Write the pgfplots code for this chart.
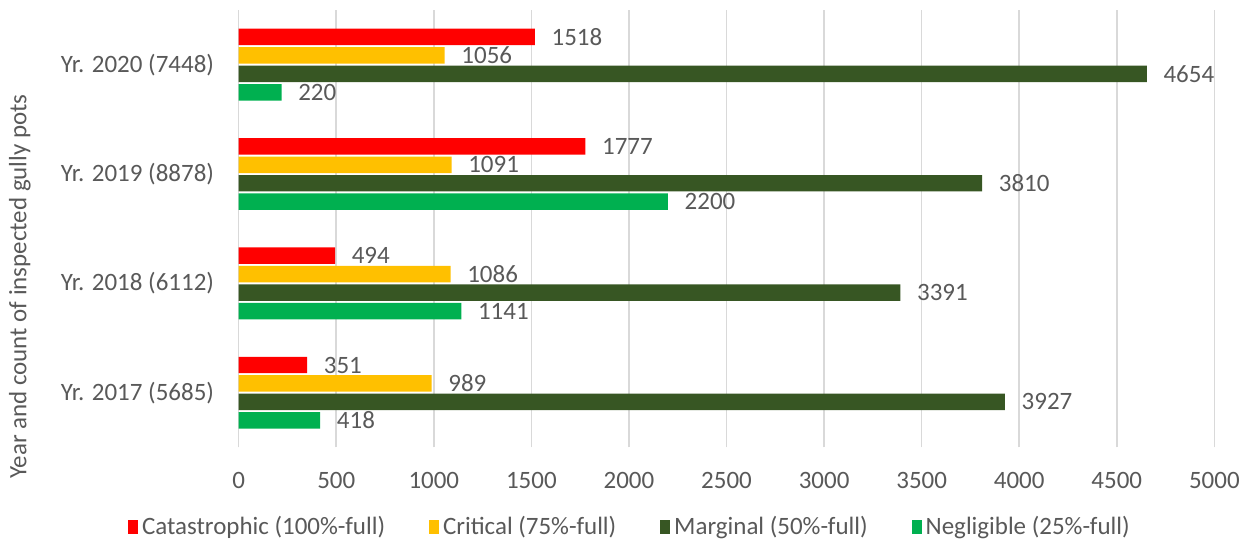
\documentclass[border=0pt]{standalone}
\usepackage{fontspec}
\setmainfont{Carlito}
\usepackage{pgfplots}
\pgfplotsset{compat=1.18}
\definecolor{cCat}{HTML}{FF0000}
\definecolor{cCri}{HTML}{FFC000}
\definecolor{cMar}{HTML}{375623}
\definecolor{cNeg}{HTML}{00B050}
\definecolor{txt}{HTML}{595959}
\definecolor{grd}{HTML}{D9D9D9}
\begin{document}
\fontsize{12.5}{15}\selectfont
\begin{tikzpicture}
\begin{axis}[
  scale only axis,
  width=488.5pt, height=219pt,
  xbar, bar width=8.25pt,
  xmin=0, xmax=5000, ymin=-0.5, ymax=3.5,
  xtick={0,500,...,5000},
  ytick={0,1,2,3},
  yticklabels={Yr. 2017 (5685),Yr. 2018 (6112),Yr. 2019 (8878),Yr. 2020 (7448)},
  /pgf/number format/assume math mode=true,
  /pgf/number format/set thousands separator={},
  xmajorgrids, major grid style={grd, line width=0.8pt},
  axis line style={draw=none},
  axis y line*=left,
  extra x ticks={0}, extra x tick labels={},
  extra x tick style={grid style={grd, line width=0.8pt}},
  major tick length=0pt,
  tick label style={text=txt, font=\fontsize{12.5}{15}\selectfont},
  xticklabel style={yshift=-8pt},
  yticklabel style={xshift=-8pt},
  ylabel={Year and count of inspected gully pots},
  every axis y label/.style={at={(rel axis cs:-0.2242,0.368)}, rotate=90, anchor=center,
    text=txt, font=\fontsize{12.5}{15}\selectfont},
  nodes near coords,
  every node near coord/.append style={text=txt, font=\fontsize{12.5}{15}\selectfont, xshift=4pt},
  legend columns=4,
  legend style={draw=none, at={(rel axis cs:0.402,-0.183)}, anchor=center,
    font=\fontsize{12.5}{15}\selectfont, text=txt,
    /tikz/every even column/.append style={column sep=20pt}},
  legend image code/.code={\fill[#1] (0pt,-3.5pt) rectangle (5pt,3.5pt);},
  legend cell align=left,
]
\addplot[fill=cCat, draw=none, bar shift=13.875pt] coordinates {(351,0) (494,1) (1777,2) (1518,3)};
\addplot[fill=cCri, draw=none, bar shift=4.625pt] coordinates {(989,0) (1086,1) (1091,2) (1056,3)};
\addplot[fill=cMar, draw=none, bar shift=-4.625pt] coordinates {(3927,0) (3391,1) (3810,2) (4654,3)};
\addplot[fill=cNeg, draw=none, bar shift=-13.875pt] coordinates {(418,0) (1141,1) (2200,2) (220,3)};
\legend{Catastrophic (100\%-full),Critical (75\%-full),Marginal (50\%-full),Negligible (25\%-full)}
\end{axis}
\path (-119.5pt,-51pt) rectangle (504.5pt,224pt);
\end{tikzpicture}
\end{document}
